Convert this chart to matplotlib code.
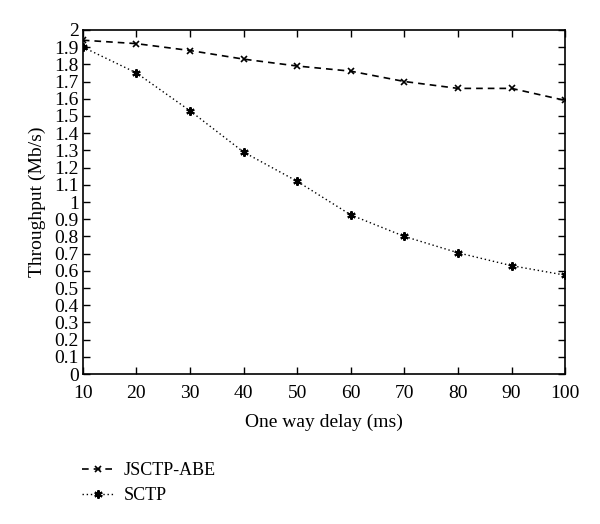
import matplotlib
matplotlib.use('Agg')
import matplotlib.pyplot as plt

plt.rcParams['font.family'] = ['Liberation Serif', 'DejaVu Serif']

# данные
delay = [10, 20, 30, 40, 50, 60, 70, 80, 90, 100]
jsctp_abe = [1.94, 1.92, 1.88, 1.83, 1.79, 1.76, 1.70, 1.66, 1.66, 1.59]
sctp = [1.90, 1.75, 1.53, 1.29, 1.12, 0.925, 0.80, 0.705, 0.63, 0.575]
y_ticks = [round(0.1 * i, 1) for i in range(21)]
y_labels = ['0', '0.1', '0.2', '0.3', '0.4', '0.5', '0.6', '0.7', '0.8', '0.9', '1',
            '1.1', '1.2', '1.3', '1.4', '1.5', '1.6', '1.7', '1.8', '1.9', '2']

fig = plt.figure(figsize=(6, 5.24), dpi=100)
ax = fig.add_axes([0.138, 0.286, 0.804, 0.657])

ax.plot(delay, jsctp_abe, color='black', linestyle=(0, (4, 3)), linewidth=1.2,
        marker='x', markersize=5, markeredgewidth=1.2, label='JSCTP-ABE')
ax.plot(delay, sctp, color='black', linestyle=(0, (1, 2)), linewidth=1.0,
        marker=(6, 2, 0), markersize=6, markeredgewidth=1.5, label='SCTP')

ax.set_xlim(10, 100)
ax.set_ylim(0, 2)
ax.set_xticks(delay)
ax.set_yticks(y_ticks)
ax.set_yticklabels(y_labels)
ax.tick_params(direction='in', top=True, right=True, length=5, width=1,
               labelsize=14, pad=3)
ax.tick_params(axis='x', pad=8)
for s in ax.spines.values():
    s.set_linewidth(1.2)

ax.set_xlabel('One way delay (ms)', fontsize=14, labelpad=8)
ax.set_ylabel('Throughput (Mb/s)', fontsize=14, labelpad=6)

h, l = ax.get_legend_handles_labels()
fig.legend(h, l, loc='upper left', bbox_to_anchor=(0.137, 0.118), frameon=False,
           fontsize=13, handlelength=1.8, handletextpad=0.5, labelspacing=0.45,
           borderpad=0, borderaxespad=0)

fig.savefig('out.png', dpi=100)
